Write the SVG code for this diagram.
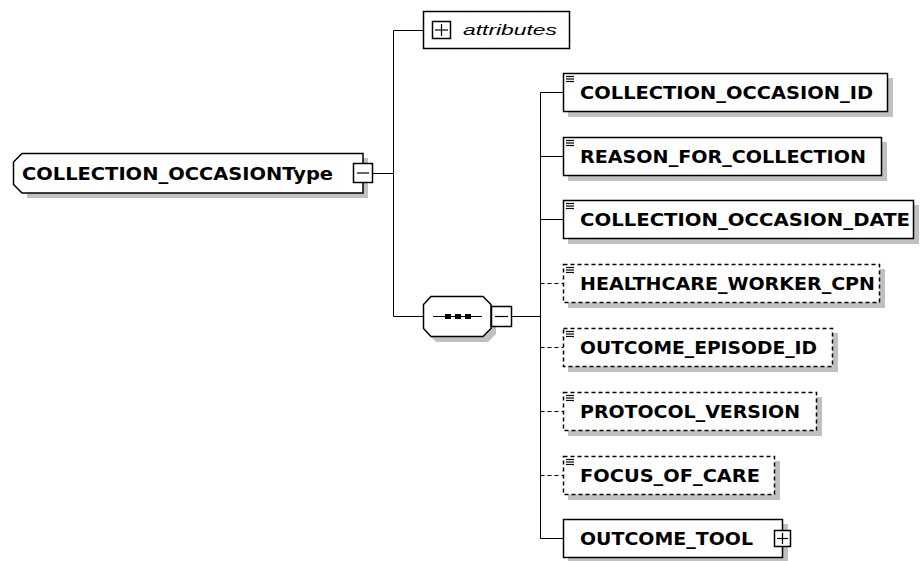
<svg xmlns="http://www.w3.org/2000/svg" width="921" height="561" viewBox="0 0 921 561">
<style>
.bg{fill:#ffffff}
.shadow{fill:#c0c0c0;stroke:none}
.box{fill:#ffffff;stroke:#000000;stroke-width:1.5}
.opt{fill:#ffffff;stroke:#000000;stroke-width:1.5;stroke-dasharray:4 3}
.ln{fill:none;stroke:#000000;stroke-width:1}
.dln{fill:none;stroke:#000000;stroke-width:1;stroke-dasharray:4 3}
.sym{fill:none;stroke:#000000;stroke-width:1.2}
.lbl{font-family:"DejaVu Sans","Liberation Sans",Arial,sans-serif;font-weight:bold;font-size:17px;fill:#000000}
.attr{font-family:"Liberation Sans",Arial,sans-serif;font-style:italic;font-size:15px;fill:#000000}
</style>
<defs>
<g id="doc">
<line x1="0" y1="0.5" x2="8" y2="0.5" stroke="#000" stroke-width="1.2"/>
<line x1="0" y1="3" x2="8" y2="3" stroke="#000" stroke-width="1.2"/>
<line x1="0" y1="5.5" x2="8" y2="5.5" stroke="#000" stroke-width="1.2"/>
</g>
</defs>
<rect class="bg" x="0" y="0" width="921" height="561"/>

<g id="connectors">
<line class="ln" x1="373" y1="173.5" x2="393.5" y2="173.5"/>
<line class="ln" x1="393.5" y1="30.5" x2="393.5" y2="316.5"/>
<line class="ln" x1="393.5" y1="30.5" x2="423" y2="30.5"/>
<line class="ln" x1="393.5" y1="316.5" x2="423" y2="316.5"/>
<line class="ln" x1="512" y1="316.5" x2="540.5" y2="316.5"/>
<line class="ln" x1="540.5" y1="92.5" x2="540.5" y2="538.5"/>
<line class="ln" x1="540.5" y1="92.5" x2="563" y2="92.5"/>
<line class="ln" x1="540.5" y1="156.5" x2="563" y2="156.5"/>
<line class="ln" x1="540.5" y1="219.5" x2="563" y2="219.5"/>
<line class="dln" x1="540.5" y1="283.5" x2="563" y2="283.5"/>
<line class="dln" x1="540.5" y1="347.5" x2="563" y2="347.5"/>
<line class="dln" x1="540.5" y1="411.5" x2="563" y2="411.5"/>
<line class="dln" x1="540.5" y1="475.5" x2="563" y2="475.5"/>
<line class="ln" x1="540.5" y1="538.5" x2="563" y2="538.5"/>
</g>

<g id="root">
<path class="shadow" d="M27,158 H368 V198 H27 Z"/>
<path class="box" d="M22,153.5 H363 V193 H22 L13.5,184.5 V162 Z"/>
<text class="lbl" x="22" y="180" textLength="311" lengthAdjust="spacingAndGlyphs">COLLECTION_OCCASIONType</text>
<rect class="box" x="353.5" y="163.5" width="19" height="19"/>
<line class="sym" x1="357" y1="173" x2="369" y2="173"/>
</g>

<g id="attributes">
<rect class="box" x="423.5" y="11.5" width="146" height="37"/>
<rect class="box" x="432.5" y="21.5" width="18" height="17"/>
<line class="sym" x1="435" y1="30" x2="448" y2="30"/>
<line class="sym" x1="441.5" y1="24" x2="441.5" y2="36"/>
<text class="attr" x="463" y="35" textLength="94" lengthAdjust="spacingAndGlyphs">attributes</text>
</g>

<g id="sequence">
<path class="shadow" d="M436,301 H488 L496,309 V334 L488,342 H436 L428,334 V309 Z"/>
<path class="box" d="M431,296.5 H483 L491,304.5 V328.5 L483,336.5 H431 L423.5,328.5 V304.5 Z"/>
<line class="ln" x1="433" y1="316.5" x2="482" y2="316.5"/>
<rect x="445" y="314" width="6" height="5" fill="#000"/>
<rect x="455" y="314" width="6" height="5" fill="#000"/>
<rect x="465" y="314" width="6" height="5" fill="#000"/>
<rect class="box" x="491.5" y="306.5" width="20" height="20"/>
<line class="sym" x1="495" y1="316.5" x2="508" y2="316.5"/>
</g>

<g id="COLLECTION_OCCASION_ID">
<rect class="shadow" x="568" y="78" width="325" height="39"/>
<rect class="box" x="563.5" y="73.5" width="324" height="38"/>
<use href="#doc" x="566" y="76"/>
<text class="lbl" x="580" y="99" textLength="293" lengthAdjust="spacingAndGlyphs">COLLECTION_OCCASION_ID</text>
</g>

<g id="REASON_FOR_COLLECTION">
<rect class="shadow" x="568" y="142" width="319" height="39"/>
<rect class="box" x="563.5" y="137.5" width="318" height="38"/>
<use href="#doc" x="566" y="140"/>
<text class="lbl" x="580" y="163" textLength="286" lengthAdjust="spacingAndGlyphs">REASON_FOR_COLLECTION</text>
</g>

<g id="COLLECTION_OCCASION_DATE">
<rect class="shadow" x="568" y="205" width="351" height="39"/>
<rect class="box" x="563.5" y="200.5" width="350" height="38"/>
<use href="#doc" x="566" y="203"/>
<text class="lbl" x="580" y="226" textLength="330" lengthAdjust="spacingAndGlyphs">COLLECTION_OCCASION_DATE</text>
</g>

<g id="HEALTHCARE_WORKER_CPN">
<rect class="shadow" x="568" y="269" width="317" height="39"/>
<rect class="opt" x="563.5" y="264.5" width="316" height="38"/>
<use href="#doc" x="566" y="267"/>
<text class="lbl" x="580" y="290" textLength="295" lengthAdjust="spacingAndGlyphs">HEALTHCARE_WORKER_CPN</text>
</g>

<g id="OUTCOME_EPISODE_ID">
<rect class="shadow" x="568" y="333" width="270" height="39"/>
<rect class="opt" x="563.5" y="328.5" width="269" height="38"/>
<use href="#doc" x="566" y="331"/>
<text class="lbl" x="580" y="354" textLength="237" lengthAdjust="spacingAndGlyphs">OUTCOME_EPISODE_ID</text>
</g>

<g id="PROTOCOL_VERSION">
<rect class="shadow" x="568" y="397" width="254" height="39"/>
<rect class="opt" x="563.5" y="392.5" width="253" height="38"/>
<use href="#doc" x="566" y="395"/>
<text class="lbl" x="580" y="418" textLength="220" lengthAdjust="spacingAndGlyphs">PROTOCOL_VERSION</text>
</g>

<g id="FOCUS_OF_CARE">
<rect class="shadow" x="568" y="461" width="212" height="39"/>
<rect class="opt" x="563.5" y="456.5" width="211" height="38"/>
<use href="#doc" x="566" y="459"/>
<text class="lbl" x="580" y="482" textLength="180" lengthAdjust="spacingAndGlyphs">FOCUS_OF_CARE</text>
</g>

<g id="OUTCOME_TOOL">
<rect class="shadow" x="568" y="524" width="220" height="39"/>
<rect class="box" x="563.5" y="519.5" width="219" height="38"/>
<text class="lbl" x="580" y="545" textLength="173" lengthAdjust="spacingAndGlyphs">OUTCOME_TOOL</text>
<rect class="box" x="774.5" y="530.5" width="16" height="16"/>
<line class="sym" x1="777" y1="538.5" x2="788" y2="538.5"/>
<line class="sym" x1="782.5" y1="533" x2="782.5" y2="544"/>
</g>
</svg>
